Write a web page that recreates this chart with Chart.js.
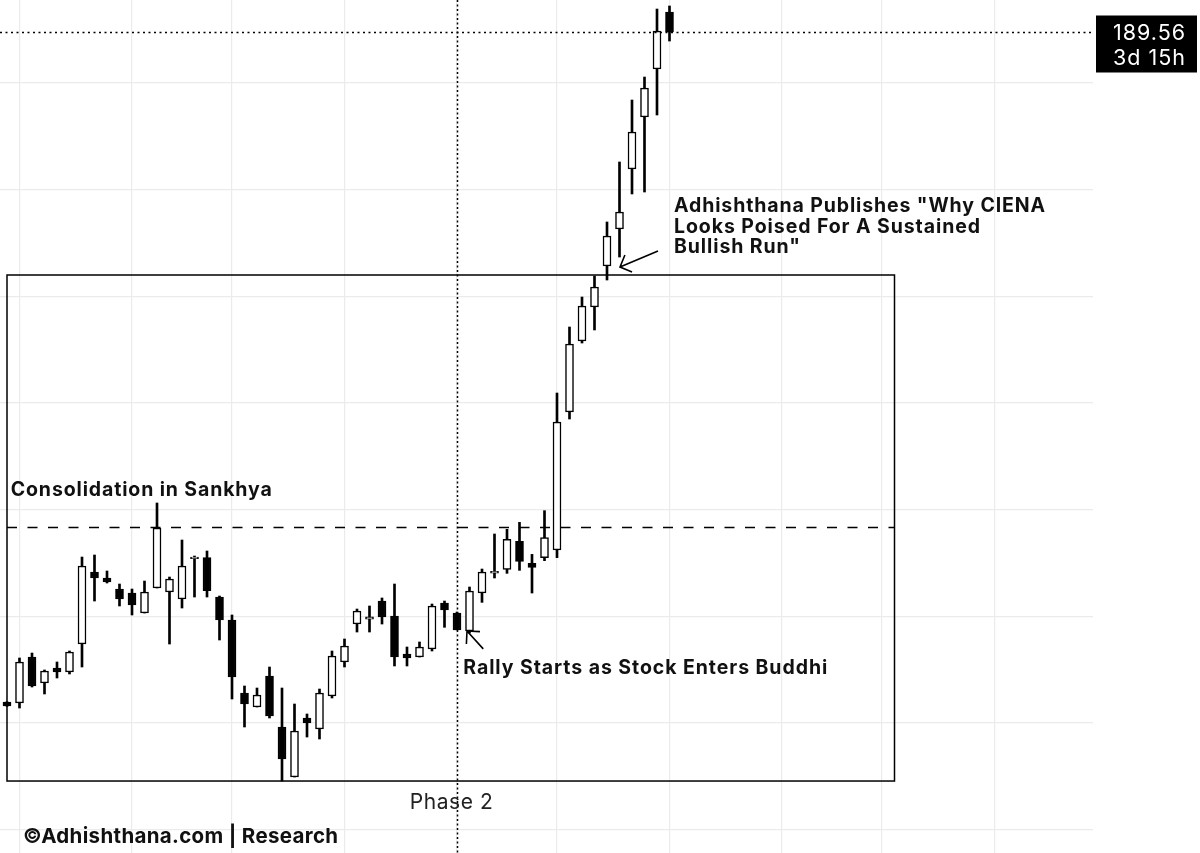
<!DOCTYPE html>
<html>
<head>
<meta charset="utf-8">
<script src="https://cdn.jsdelivr.net/npm/chart.js@4.4.1/dist/chart.umd.min.js"></script>
<style>
  html, body { margin: 0; padding: 0; background: #fff; }
  canvas { display: block; }
</style>
</head>
<body>
<canvas id="grafico" width="1200" height="853"></canvas>
<script>
// Velas semanais (CIEN), da mais antiga para a mais recente
const aberturas = [63.9, 63.75, 72.37, 67.5, 70.31, 69.56, 74.81, 88.31, 87.19, 85.12,
  84.37, 80.62, 85.31, 84.56, 83.25, 90.8, 91.0, 83.62, 79.31, 65.62,
  63.0, 68.81, 59.25, 49.87, 60.94, 58.87, 65.06, 71.44, 78.56, 79.45,
  82.87, 80.06, 72.94, 72.37, 73.87, 82.5, 80.62, 77.25, 84.37, 88.1,
  88.81, 94.06, 89.94, 91.0, 92.44, 118.31, 131.62, 138.0, 145.69, 152.62,
  163.87, 173.62, 182.62, 193.31];
const maximas = [64.0, 72.19, 73.12, 69.94, 71.44, 73.5, 91.12, 91.5, 88.5, 86.06,
  85.12, 86.62, 101.25, 87.37, 94.31, 91.31, 92.25, 83.81, 80.25, 66.94,
  66.56, 70.5, 66.56, 63.56, 61.69, 66.37, 73.5, 75.75, 81.37, 81.94,
  83.44, 86.06, 74.25, 75.19, 82.31, 82.87, 80.81, 85.5, 88.87, 95.44,
  96.31, 97.62, 91.62, 99.81, 121.87, 134.25, 139.87, 143.81, 153.94, 165.19,
  176.81, 181.12, 193.87, 194.44];
const minimas = [63.1, 62.81, 66.75, 65.44, 68.44, 69.19, 70.5, 82.87, 86.25, 81.94,
  80.25, 80.62, 85.31, 74.81, 81.56, 83.62, 83.62, 75.56, 64.5, 59.25,
  63.0, 60.94, 49.12, 49.87, 57.37, 57.0, 64.69, 70.5, 77.06, 77.06,
  78.56, 70.69, 70.69, 72.37, 73.5, 77.94, 77.44, 76.87, 82.62, 87.19,
  88.06, 88.62, 84.37, 90.44, 91.0, 117.0, 131.25, 133.69, 143.06, 147.37,
  159.19, 159.56, 174.0, 187.87];
const fechamentos = [63.2, 71.44, 66.94, 69.75, 69.56, 73.31, 89.44, 87.19, 86.44, 83.25,
  82.12, 84.56, 96.56, 87.0, 89.44, 91.1, 84.81, 79.31, 68.62, 63.56,
  65.25, 61.31, 53.25, 58.5, 60.0, 65.62, 72.56, 74.44, 81.0, 79.9,
  79.87, 72.37, 72.19, 74.25, 81.94, 81.19, 77.44, 84.75, 88.31, 88.45,
  94.44, 90.31, 89.19, 94.75, 116.44, 131.06, 138.19, 141.75, 151.31, 155.81,
  170.81, 179.06, 189.75, 189.56];

// linhas de grade: semanas de virada de mês e preços
const gradeSemanas = [1, 10, 18, 27, 36, 44, 53, 62, 70, 79];
const gradePrecos = [40, 60, 80, 100, 120, 140, 160, 180];

// anotações (em semanas / preço)
const caixaSemanas = [0, 71];
const caixaPrecos = [49.12, 144];
const linhaSankhya = 96.75;
const semanaCursor = 36;
const ultimoPreco = 189.56;
const tempoRestante = '3d 15h';

const velas = aberturas.map((o, i) => ({ x: i, y: [o, fechamentos[i]] }));
const pavios = minimas.map((l, i) => ({ x: i, y: [l, maximas[i]] }));
const corCorpo = aberturas.map((o, i) => fechamentos[i] >= o ? '#ffffff' : '#000000');

function seta(ctx, x0, y0, x1, y1) {
  // x1,y1 = ponta
  const ang = Math.atan2(y0 - y1, x0 - x1);
  const tam = 13;
  ctx.beginPath();
  ctx.moveTo(x0, y0);
  ctx.lineTo(x1, y1);
  ctx.moveTo(x1 + tam * Math.cos(ang + Math.PI / 4), y1 + tam * Math.sin(ang + Math.PI / 4));
  ctx.lineTo(x1, y1);
  ctx.lineTo(x1 + tam * Math.cos(ang - Math.PI / 4), y1 + tam * Math.sin(ang - Math.PI / 4));
  ctx.stroke();
}

// escreve o texto esticando o espaçamento até a largura desejada
function texto(ctx, str, x, y, largura) {
  ctx.letterSpacing = '0px';
  const w = ctx.measureText(str).width;
  const extra = Math.max(0, (largura - w) / (str.length - 1));
  ctx.letterSpacing = extra.toFixed(2) + 'px';
  ctx.textAlign = 'left';
  ctx.fillText(str, x, y);
  ctx.letterSpacing = '0px';
}

const anotacoes = {
  id: 'anotacoes',
  beforeDatasetsDraw(chart) {
    const { ctx, scales: { x, y } } = chart;
    const bx0 = x.getPixelForValue(caixaSemanas[0]);
    const bx1 = x.getPixelForValue(caixaSemanas[1]);
    const by0 = y.getPixelForValue(caixaPrecos[1]);
    const by1 = y.getPixelForValue(caixaPrecos[0]);
    ctx.save();
    ctx.strokeStyle = '#000';
    ctx.lineWidth = 1.5;
    ctx.strokeRect(bx0, by0, bx1 - bx0, by1 - by0);

    // linha tracejada da consolidação
    const yl = Math.round(y.getPixelForValue(linhaSankhya)) + 0.5;
    ctx.setLineDash([10, 10.5]);
    ctx.lineWidth = 1.6;
    ctx.beginPath();
    ctx.moveTo(bx0, yl);
    ctx.lineTo(bx1, yl);
    ctx.stroke();
    ctx.restore();
  },
  afterDatasetsDraw(chart) {
    const { ctx, chartArea, scales: { x, y } } = chart;
    ctx.save();
    // cursor pontilhado
    ctx.strokeStyle = '#000';
    ctx.lineWidth = 1.5;
    ctx.setLineDash([2, 2.5]);
    const xc = Math.round(x.getPixelForValue(semanaCursor)) + 0.5;
    ctx.beginPath();
    ctx.moveTo(xc, 0);
    ctx.lineTo(xc, chart.height);
    ctx.stroke();
    const yp = Math.round(y.getPixelForValue(ultimoPreco)) + 0.5;
    ctx.setLineDash([2, 3.5]);
    ctx.beginPath();
    ctx.moveTo(chartArea.left, yp);
    ctx.lineTo(chartArea.right, yp);
    ctx.stroke();
    ctx.setLineDash([]);

    // setas
    ctx.lineWidth = 1.6;
    seta(ctx, x.getPixelForValue(52.08), y.getPixelForValue(148.5), x.getPixelForValue(49.04), y.getPixelForValue(145.5));
    seta(ctx, x.getPixelForValue(38.1), y.getPixelForValue(73.9), x.getPixelForValue(36.8), y.getPixelForValue(77.25));

    // textos
    ctx.fillStyle = '#111';
    ctx.textBaseline = 'alphabetic';
    ctx.font = 'bold 19.5px Inter';
    texto(ctx, 'Consolidation in Sankhya', x.getPixelForValue(0.3), y.getPixelForValue(102.56), 261);
    texto(ctx, 'Rally Starts as Stock Enters Buddhi', x.getPixelForValue(36.5), y.getPixelForValue(69.19), 364);
    const xt = x.getPixelForValue(53.36);
    texto(ctx, 'Adhishthana Publishes "Why CIENA', xt, y.getPixelForValue(155.8), 371);
    texto(ctx, 'Looks Poised For A Sustained', xt, y.getPixelForValue(151.9), 306);
    texto(ctx, 'Bullish Run"', xt, y.getPixelForValue(148.1), 126);

    ctx.font = '21px Inter';
    ctx.fillStyle = '#222';
    const xm = (x.getPixelForValue(caixaSemanas[0]) + x.getPixelForValue(caixaSemanas[1])) / 2;
    texto(ctx, 'Phase 2', xm - 41, y.getPixelForValue(caixaPrecos[0]) + 28, 83);

    ctx.font = 'bold 20.5px Inter';
    ctx.fillStyle = '#111';
    texto(ctx, '\u00A9Adhishthana.com | Research', 23, 843, 315);

    // etiqueta do último preço
    ctx.fillStyle = '#000';
    ctx.fillRect(chartArea.right + 3, yp - 17, 101, 57);
    ctx.fillStyle = '#fff';
    ctx.textBaseline = 'middle';
    ctx.font = '21.5px Inter';
    texto(ctx, ultimoPreco.toFixed(2), chartArea.right + 20, yp + 1, 72);
    texto(ctx, tempoRestante, chartArea.right + 20, yp + 26, 72);
    ctx.restore();
  }
};

const ctx = document.getElementById('grafico').getContext('2d');
new Chart(ctx, {
  type: 'bar',
  data: {
    datasets: [
      { data: pavios, backgroundColor: '#000', barThickness: 2, grouped: false, order: 2 },
      { data: velas, backgroundColor: corCorpo, borderColor: '#000', borderWidth: 1.5,
        borderSkipped: false, barThickness: 8, grouped: false, order: 1 }
    ]
  },
  options: {
    responsive: false,
    animation: false,
    events: [],
    layout: { padding: 0 },
    plugins: { legend: { display: false }, tooltip: { enabled: false } },
    scales: {
      x: {
        type: 'linear', min: -0.56, max: 86.88, offset: false,
        grid: { color: '#ebebeb', lineWidth: 1.2, drawTicks: false, offset: false },
        border: { display: false },
        ticks: { display: false },
        afterBuildTicks: s => { s.ticks = gradeSemanas.map(v => ({ value: v })); },
        afterFit: s => { s.height = 0; }
      },
      y: {
        position: 'right', min: 35.625, max: 195.5625,
        grid: { color: '#ebebeb', lineWidth: 1.2, drawTicks: false },
        border: { display: false },
        ticks: { display: false },
        afterBuildTicks: s => { s.ticks = gradePrecos.map(v => ({ value: v })); },
        afterFit: s => { s.width = 107; }
      }
    }
  },
  plugins: [anotacoes]
});
</script>
</body>
</html>
